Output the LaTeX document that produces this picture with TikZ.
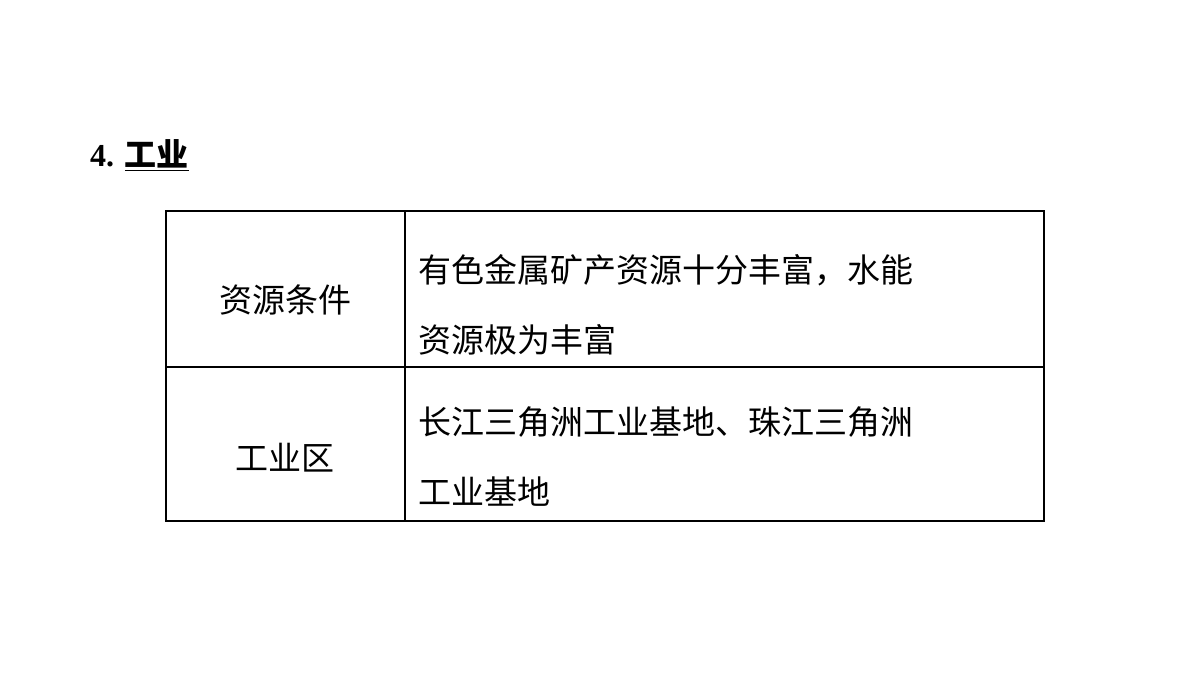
\documentclass[tikz,border=0pt]{standalone}
\usepackage{fontspec}
\setmainfont{Liberation Serif}
\newfontfamily\cjk{Noto Sans CJK SC}
\newfontfamily\cjkb{Noto Sans CJK SC Bold}
\begin{document}
\begin{tikzpicture}[x=1pt,y=-1pt,
  txt/.style={inner sep=0pt,font=\cjk\fontsize{33}{40}\selectfont},
  cell/.style={draw,line width=1.2pt}]
\useasboundingbox[fill=white] (0,0) rectangle (1200,675);
\node[anchor=west,inner sep=0pt] (title) at (90,155) {\fontsize{32}{38}\selectfont\bfseries 4. \underline{\cjkb\fontsize{32}{38}\selectfont 工业}};
\draw[line width=1.2pt] (166,211) rectangle (1044,521);
\draw[line width=1.2pt] (405,211) -- (405,521);
\draw[line width=1.2pt] (166,367) -- (1044,367);
\node[txt] (a1) at (285,300) {资源条件};
\node[txt] (a2) at (285,458) {工业区};
\node[txt,anchor=west] (b1) at (418,270) {有色金属矿产资源十分丰富，水能};
\node[txt,anchor=west] (b2) at (418,340) {资源极为丰富};
\node[txt,anchor=west] (c1) at (418,422) {长江三角洲工业基地、珠江三角洲};
\node[txt,anchor=west] (c2) at (418,492) {工业基地};
\end{tikzpicture}
\end{document}
